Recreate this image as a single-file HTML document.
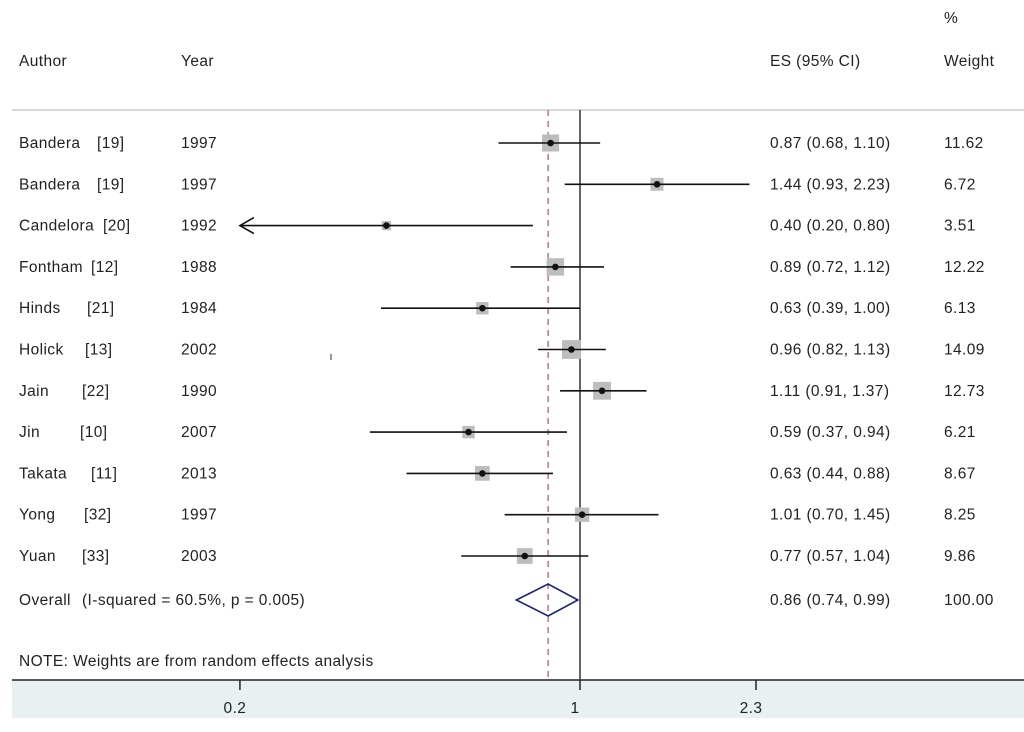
<!DOCTYPE html>
<html><head><meta charset="utf-8"><style>
body{margin:0;background:#fff;}
svg{display:block;font-family:"Liberation Sans",sans-serif;}
text{font-size:15.5px;fill:#222;letter-spacing:0.4px;}
</style></head><body>
<svg id="plot" width="1024" height="732" viewBox="0 0 1024 732">
<rect x="12" y="680" width="1012" height="38" fill="#e8f0f2"/>
<line x1="12" y1="110" x2="1024" y2="110" stroke="#ccc" stroke-width="1.5"/>
<text x="944" y="23">%</text>
<text x="19" y="66">Author</text>
<text x="181" y="66">Year</text>
<text x="770" y="66">ES (95% CI)</text>
<text x="944" y="66">Weight</text>
<line x1="12" y1="680" x2="1024" y2="680" stroke="#222" stroke-width="1.5"/>
<g id="marks"></g>
<text x="19" y="666">NOTE: Weights are from random effects analysis</text>
<line x1="331" y1="354" x2="331" y2="360" stroke="#333"/>
</svg>
<script>
const authors=["Bandera","Bandera","Candelora","Fontham","Hinds","Holick","Jain","Jin","Takata","Yong","Yuan"];
const refs=["[19]","[19]","[20]","[12]","[21]","[13]","[22]","[10]","[11]","[32]","[33]"];
const years=["1997","1997","1992","1988","1984","2002","1990","2007","2013","1997","2003"];
const es=[0.87,1.44,0.40,0.89,0.63,0.96,1.11,0.59,0.63,1.01,0.77];
const lo=[0.68,0.93,0.20,0.72,0.39,0.82,0.91,0.37,0.44,0.70,0.57];
const hi=[1.10,2.23,0.80,1.12,1.00,1.13,1.37,0.94,0.88,1.45,1.04];
const weights=[11.62,6.72,3.51,12.22,6.13,14.09,12.73,6.21,8.67,8.25,9.86];
const overall=[0.86,0.74,0.99];
const ticks=[0.2,1,2.3];
const tickLabels=["0.2","1","2.3"];
const refX=[97,97,103,91,87,85,82,80,91,84,82];
const NS="http://www.w3.org/2000/svg";
const g=document.getElementById('marks');
const X=v=>580+Math.log(v)*211.3;
const Y=i=>143+i*41.3;
const xmin=0.2;
function mk(tag,attrs,parent){const e=document.createElementNS(NS,tag);for(const k in attrs)e.setAttribute(k,attrs[k]);(parent||g).appendChild(e);return e;}
function fmt(v){return v.toFixed(2);}
let e=mk('line',{x1:X(1),y1:110,x2:X(1),y2:680,stroke:'#333','stroke-width':1.5});


e=mk('line',{x1:X(overall[0]),y1:110,x2:X(overall[0]),y2:680,stroke:'#b5555a','stroke-width':1.2,'stroke-dasharray':'6,5'});


for(let i=0;i<es.length;i++){
  const y=Y(i);
  const x1=Math.max(X(lo[i]),X(xmin)), x2=X(hi[i]);
  const s=5*Math.sqrt(weights[i]);
  e=mk('rect',{x:X(es[i])-s/2,y:y-s/2,width:s,height:s,fill:'#bdbdbd'});
  
  
  e=mk('line',{x1:x1,y1:y,x2:x2,y2:y,stroke:'#111','stroke-width':1.6});
  
  
  if(X(lo[i])<=X(xmin)+0.5){
    e=mk('path',{d:`M${x1+14},${y-8} L${x1},${y} L${x1+14},${y+8}`,fill:'none',stroke:'#111','stroke-width':1.6});
    
    
  }
  e=mk('circle',{cx:X(es[i]),cy:y,r:3.3,fill:'#111'});
  
  
  e=mk('text',{x:19,y:y+5});e.textContent=authors[i];
  
  
  e=mk('text',{x:refX[i],y:y+5});e.textContent=refs[i];
  
  
  e=mk('text',{x:181,y:y+5});e.textContent=years[i];
  
  
  e=mk('text',{x:770,y:y+5});e.textContent=`${fmt(es[i])} (${fmt(lo[i])}, ${fmt(hi[i])})`;
  
  
  e=mk('text',{x:944,y:y+5});e.textContent=fmt(weights[i]);
  
  
}
const oy=600;
e=mk('path',{d:`M${X(overall[1])},${oy} L${X(overall[0])},${oy-16} L${X(overall[2])},${oy} L${X(overall[0])},${oy+16} Z`,fill:'none',stroke:'#1a237e','stroke-width':1.6});


e=mk('text',{x:19,y:oy+5});e.textContent='Overall';


e=mk('text',{x:82,y:oy+5});e.textContent='(I-squared = 60.5%, p = 0.005)';


e=mk('text',{x:770,y:oy+5});e.textContent=`${fmt(overall[0])} (${fmt(overall[1])}, ${fmt(overall[2])})`;


e=mk('text',{x:944,y:oy+5});e.textContent='100.00';


for(let i=0;i<ticks.length;i++){
  e=mk('line',{x1:X(ticks[i]),y1:680,x2:X(ticks[i]),y2:690,stroke:'#222','stroke-width':1.5});
  
  
  e=mk('text',{x:X(ticks[i])-5,y:713,'text-anchor':'middle'});e.textContent=tickLabels[i];
  
  
}
</script>
</body></html>
